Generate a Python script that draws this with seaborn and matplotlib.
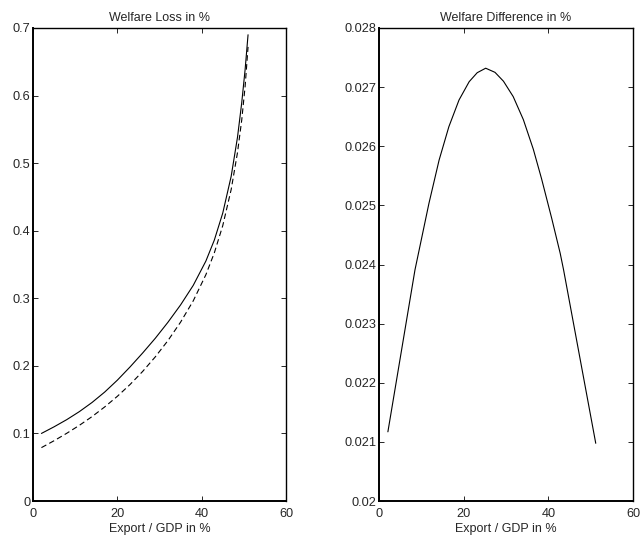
import matplotlib
matplotlib.use("Agg")
import matplotlib.pyplot as plt
import seaborn as sns

# Left panel: welfare loss (solid and dashed curves)
x_loss = [2, 5, 8, 11, 14, 17, 20, 23, 26, 29, 32, 35, 38, 41, 43, 45, 47, 48.5, 49.5, 50.3, 51]
loss_solid = [0.100, 0.1098, 0.1204, 0.1323, 0.1458, 0.1612, 0.1788, 0.1983, 0.2190, 0.2408,
              0.2645, 0.2902, 0.3191, 0.3551, 0.3861, 0.4261, 0.4806, 0.5384, 0.5894,
              0.6382, 0.690]
loss_dashed = [0.079, 0.0892, 0.1002, 0.1120, 0.1249, 0.1392, 0.1549, 0.1723, 0.1917, 0.2133,
               0.2374, 0.2647, 0.2962, 0.3349, 0.3672, 0.4075, 0.4610, 0.5158, 0.5638,
               0.6134, 0.672]

# Right panel: welfare difference
x_diff = [2.1, 8.5, 11.8, 14.2, 16.5, 18.9, 21.3, 23.2, 25.2, 27.4, 29.4,
          31.7, 34.1, 36.45, 38.4, 40.8, 42.8, 43.6, 51.2]
diff = [0.02117, 0.02391, 0.025035, 0.025767, 0.02633, 0.026782, 0.027092,
        0.027244, 0.02732, 0.02725, 0.02710, 0.02684, 0.02645, 0.02595, 0.02545,
        0.02478, 0.02419, 0.02391, 0.020976]

sns.set_style("ticks")
plt.rcParams['font.family'] = ['Liberation Sans', 'DejaVu Sans']
plt.rcParams['xtick.direction'] = 'in'
plt.rcParams['ytick.direction'] = 'in'
plt.rcParams['xtick.top'] = True
plt.rcParams['ytick.right'] = True

fig = plt.figure(figsize=(6.41, 5.44), dpi=100)
ax1 = fig.add_axes([33/641, 43/544, 253/641, 473/544])
ax2 = fig.add_axes([379/641, 43/544, 254/641, 473/544])

sns.lineplot(x=x_loss, y=loss_solid, ax=ax1, color='black', linewidth=0.8)
sns.lineplot(x=x_loss, y=loss_dashed, ax=ax1, color='black', linewidth=0.8,
             linestyle=(0, (5, 3)))
sns.lineplot(x=x_diff, y=diff, ax=ax2, color='black', linewidth=0.8)

ax1.set_xlim(0, 60)
ax1.set_ylim(0, 0.7)
ax1.set_xticks([0, 20, 40, 60])
ax1.set_yticks([0, 0.1, 0.2, 0.3, 0.4, 0.5, 0.6, 0.7])
ax1.set_yticklabels(['0', '0.1', '0.2', '0.3', '0.4', '0.5', '0.6', '0.7'])
ax1.set_title('Welfare Loss in %', fontsize=9, pad=5)

ax2.set_xlim(0, 60)
ax2.set_ylim(0.02, 0.028)
ax2.set_xticks([0, 20, 40, 60])
ax2.set_yticks([0.020, 0.021, 0.022, 0.023, 0.024, 0.025, 0.026, 0.027, 0.028])
ax2.set_yticklabels(['0.02', '0.021', '0.022', '0.023', '0.024', '0.025', '0.026', '0.027', '0.028'])
ax2.set_title('Welfare Difference in %', fontsize=9, pad=5)

for ax in (ax1, ax2):
    ax.set_xlabel('Export / GDP in %', fontsize=9, labelpad=2)
    ax.set_ylabel('')
    ax.tick_params(labelsize=9.2, length=3.5, width=0.7, pad=2)
    ax.tick_params(axis='x', pad=5)
    for s in ax.spines.values():
        s.set_visible(True)
        s.set_linewidth(1.0)
        s.set_color('black')
    # left and bottom frame lines are a little heavier in the reference
    ax.spines['left'].set_linewidth(1.4)
    ax.spines['bottom'].set_linewidth(1.4)

fig.savefig('out.png', dpi=100)
